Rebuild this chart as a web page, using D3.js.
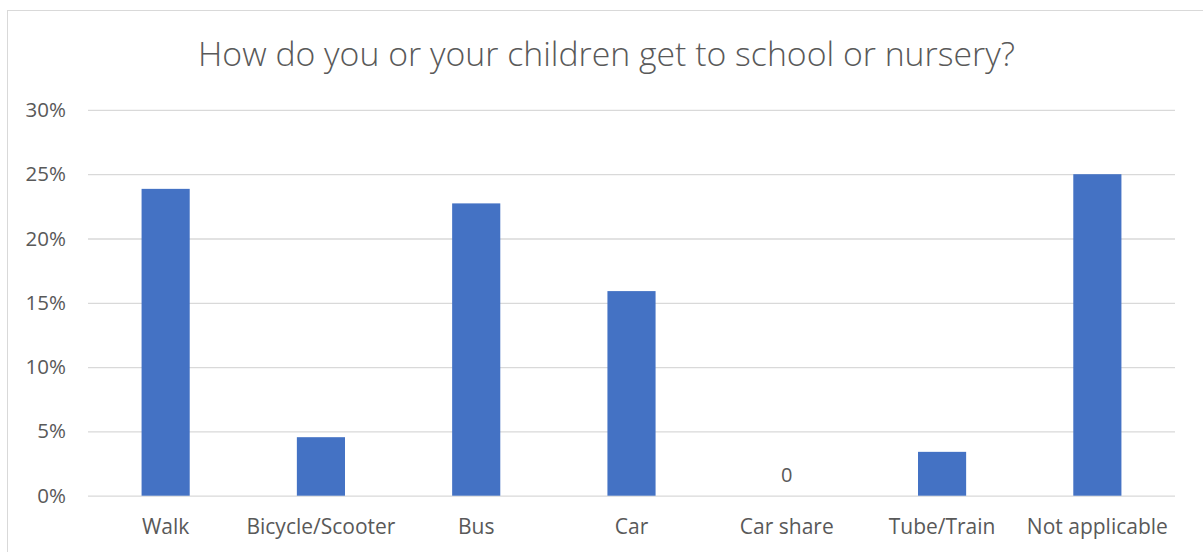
<!DOCTYPE html>
<html>
<head>
<meta charset="utf-8">
<script src="https://cdn.jsdelivr.net/npm/d3@7"></script>
<style>
  html, body { margin: 0; padding: 0; background: #fff; }
  svg { display: block; }
  text { font-family: "Open Sans", "Liberation Sans", sans-serif; fill: #595959; }
</style>
</head>
<body>
<svg id="chart" width="1203" height="552"></svg>
<script>
const title = "How do you or your children get to school or nursery?";
const categories = ["Walk", "Bicycle/Scooter", "Bus", "Car", "Car share", "Tube/Train", "Not applicable"];
const values = [0.2386, 0.0455, 0.2273, 0.1591, 0, 0.0341, 0.25];
const tickValues = [0, 0.05, 0.10, 0.15, 0.20, 0.25, 0.30];

const svg = d3.select("#chart");
const W = 1203, H = 552;
const margin = { left: 88, right: 28, top: 110, bottom: 56 };

// chart border
svg.append("rect")
  .attr("x", 7.5).attr("y", 10.5)
  .attr("width", W + 10).attr("height", H + 10)
  .attr("fill", "#fff").attr("stroke", "#d9d9d9").attr("stroke-width", 1);

const x = d3.scaleBand()
  .domain(categories)
  .range([margin.left, W - margin.right])
  .paddingInner(0.69).paddingOuter(0.345);

const y = d3.scaleLinear()
  .domain([0, 0.30])
  .range([495.7, 109.9]);

// gridlines
const grid = svg.append("g")
  .attr("transform", `translate(${margin.left},0)`)
  .call(d3.axisLeft(y).tickValues(tickValues).tickSize(-(W - margin.right - margin.left)).tickFormat(""));
grid.select(".domain").remove();
grid.selectAll("line").attr("stroke", "#d9d9d9").attr("stroke-width", 1.3);

// y tick labels
const yAxis = svg.append("g")
  .attr("transform", `translate(${margin.left},0)`)
  .call(d3.axisLeft(y).tickValues(tickValues).tickSize(0).tickPadding(22).tickFormat(d3.format(".0%")));
yAxis.select(".domain").remove();
yAxis.selectAll("text").style("font-size", "20.5px").attr("fill", "#595959");

// bars
svg.append("g").selectAll("rect")
  .data(categories)
  .join("rect")
  .attr("x", (d) => x(d))
  .attr("width", x.bandwidth())
  .attr("y", (d, i) => y(values[i]))
  .attr("height", (d, i) => y(0) - y(values[i]))
  .attr("fill", "#4472C4");

// zero-value label
svg.append("g").selectAll("text")
  .data(categories.filter((d, i) => values[i] === 0))
  .join("text")
  .attr("x", (d) => x(d) + x.bandwidth() / 2)
  .attr("y", y(0) - 14)
  .attr("text-anchor", "middle")
  .style("font-size", "20px")
  .attr("fill", "#404040")
  .text("0");

// x axis labels
const xAxis = svg.append("g")
  .attr("transform", `translate(0,${y(0)})`)
  .call(d3.axisBottom(x).tickSize(0).tickPadding(23));
xAxis.select(".domain").remove();
xAxis.selectAll("text").style("font-size", "21px").attr("fill", "#595959");

// title
svg.append("text")
  .attr("x", 606.5).attr("y", 65.7)
  .attr("text-anchor", "middle")
  .style("font-size", "33.8px")
  .style("font-weight", "300")
  .text(title);
</script>
</body>
</html>
